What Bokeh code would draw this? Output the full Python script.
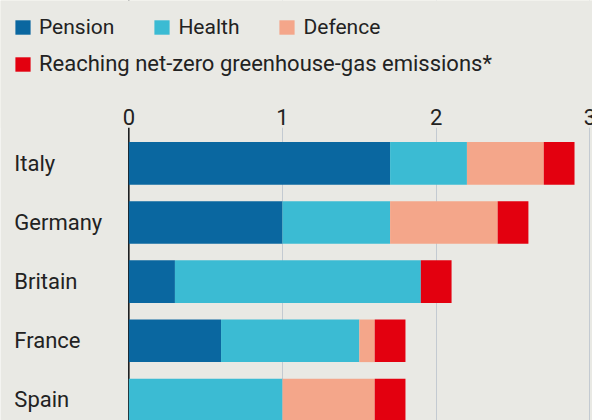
from bokeh.plotting import figure
from bokeh.models import ColumnDataSource, Range1d, FixedTicker, Legend, LegendItem, Span, BoxAnnotation
from bokeh.core.properties import value
from bokeh.embed import file_html
from bokeh.resources import INLINE

# Fiscal pressures, % of GDP
countries = ["Italy", "Germany", "Britain", "France", "Spain"]
pension = [1.7, 1.0, 0.3, 0.6, 0.0]
health = [0.5, 0.7, 1.6, 0.9, 1.0]
defence = [0.5, 0.7, 0.0, 0.1, 0.6]
net_zero = [0.2, 0.2, 0.2, 0.2, 0.2]
x_ticks = [0, 1, 2, 3]
x_tick_labels = ["0", "1", "2", "3"]

series = ["pension", "health", "defence", "net_zero"]
labels = ["Pension", "Health", "Defence", "Reaching net-zero greenhouse-gas emissions*"]
colors = ["#0a67a0", "#3bbbd3", "#f4a68a", "#e3000f"]

BG = "#e9e9e4"
INK = "#222222"
FONT = "Roboto"

# layout constants in data units
LABEL_X = -0.745      # left edge of the country names
AXIS_TOP = -0.6       # where the grid starts, above the first bar
TICK_LABEL_Y = -0.79  # middle of the scale numbers

source = ColumnDataSource(dict(
    pos=list(range(len(countries))),
    country=countries,
    pension=pension,
    health=health,
    defence=defence,
    net_zero=net_zero,
))
tick_source = ColumnDataSource(dict(x=x_ticks, text=x_tick_labels,
                                    y=[TICK_LABEL_Y] * len(x_ticks)))

p = figure(
    width=592, height=420,
    x_range=Range1d(-0.835, 3.017),
    y_range=Range1d(4.347, -2.753),
    output_backend="svg", toolbar_location=None,
    min_border=0,
    background_fill_color=BG, border_fill_color=BG,
    outline_line_color=None,
)
p.xaxis.visible = False
p.yaxis.visible = False
p.ygrid.visible = False

p.xgrid.ticker = FixedTicker(ticks=x_ticks)
p.xgrid.grid_line_color = "#c3cad1"
p.xgrid.grid_line_width = 1

# zero baseline
p.add_layout(Span(location=0, dimension="height", line_color="#111111",
                  line_width=1.5, level="underlay"))
# keep grid and baseline below the scale numbers
p.add_layout(BoxAnnotation(bottom=AXIS_TOP, fill_color=BG, fill_alpha=1,
                           line_color=None, level="underlay"))

bars = p.hbar_stack(series, y="pos", height=0.72, color=colors, line_color=None, source=source)

# country names, left aligned
p.text(x=LABEL_X, y="pos", text="country", source=source,
       text_font=value(FONT), text_font_size="22px", text_color=INK,
       text_align="left", text_baseline="middle")

# scale numbers along the top
p.text(x="x", y="y", text="text", source=tick_source,
       text_font=value(FONT), text_font_size="22px", text_color=INK,
       text_align="center", text_baseline="middle")

def make_legend(items, loc, size):
    return Legend(items=items, location=loc, orientation="horizontal",
                  glyph_width=19, glyph_height=18, label_standoff=7, spacing=38,
                  padding=0, margin=0, border_line_color=None, background_fill_alpha=0,
                  label_text_font=FONT, label_text_font_size=size, label_text_color=INK,
                  label_height=18)

row1 = [LegendItem(label=labels[i], renderers=[bars[i]]) for i in range(3)]
row2 = [LegendItem(label=labels[3], renderers=[bars[3]])]
p.add_layout(make_legend(row1, (13, 381), "21px"))
p.add_layout(make_legend(row2, (13, 344), "22px"))

open("out.html", "w").write(file_html(p, INLINE))
